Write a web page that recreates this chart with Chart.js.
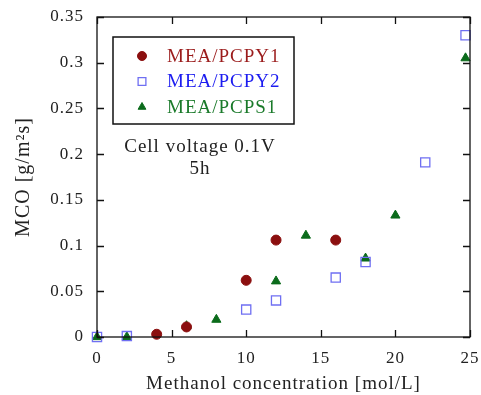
<!DOCTYPE html>
<html>
<head>
<meta charset="utf-8">
<script src="https://cdn.jsdelivr.net/npm/chart.js@4.4.1/dist/chart.umd.min.js"></script>
<style>
  html, body { margin: 0; padding: 0; background: #fff; }
  #wrap { width: 481px; height: 395px; }
</style>
</head>
<body>
<div id="wrap"><canvas id="wykres" width="481" height="395"></canvas></div>
<script>
// stezenie metanolu [mol/L] i MCO [g/m2 s] dla trzech membran
const seriaNazwy = ['MEA/PCPY1', 'MEA/PCPY2', 'MEA/PCPS1'];

const y1X = [4, 6, 10, 12, 16];
const y1Val = [0.003, 0.011, 0.062, 0.106, 0.106];

const y2X = [0, 2, 10, 12, 16, 18, 22, 24.7];
const y2Val = [0, 0.001, 0.030, 0.040, 0.065, 0.082, 0.191, 0.330];

const s1X = [0, 2, 6, 8, 12, 14, 18, 20, 24.7];
const s1Val = [0, 0, 0.012, 0.019, 0.061, 0.111, 0.086, 0.133, 0.305];

const xTicks = [0, 5, 10, 15, 20, 25];
const yTickLabels = ['0', '0.05', '0.1', '0.15', '0.2', '0.25', '0.3', '0.35'];

const opis = ['Cell voltage 0.1V', '5h'];

const FONT = '"Liberation Serif", "Times New Roman", serif';

function punkty(xs, ys) {
    return xs.map((x, i) => ({ x: x, y: ys[i] }));
}

// szerszy odstep liter dla wszystkich napisow
const odstepPlugin = {
    id: 'odstep',
    beforeUpdate(c) { c.ctx.letterSpacing = '1px'; },
    beforeDraw(c) { c.ctx.letterSpacing = '1px'; }
};

// ramka wokol wykresu, znaczniki do srodka, legenda i opis
const ramkaPlugin = {
    id: 'ramka',
    afterDraw(c) {
        const ctx = c.ctx;
        const a = c.chartArea;
        const sx = c.scales.x, sy = c.scales.y;
        ctx.save();
        ctx.strokeStyle = '#111';
        ctx.lineWidth = 1.3;
        ctx.strokeRect(a.left, a.top, a.right - a.left, a.bottom - a.top);
        ctx.beginPath();
        xTicks.forEach(v => {
            const px = Math.round(sx.getPixelForValue(v)) + 0.5;
            ctx.moveTo(px, a.bottom); ctx.lineTo(px, a.bottom - 7);
            ctx.moveTo(px, a.top); ctx.lineTo(px, a.top + 7);
        });
        sy.ticks.forEach(t => {
            const py = Math.round(sy.getPixelForValue(t.value)) + 0.5;
            ctx.moveTo(a.left, py); ctx.lineTo(a.left + 7, py);
            ctx.moveTo(a.right, py); ctx.lineTo(a.right - 7, py);
        });
        ctx.stroke();

        // legenda
        const lx = 113, ly = 37, lw = 181, lh = 87;
        ctx.lineWidth = 1.5;
        ctx.strokeStyle = '#111';
        ctx.strokeRect(lx, ly, lw, lh);
        const kolory = ['#9b1c1c', '#1c1cf0', '#1a7a2a'];
        ctx.font = '19px ' + FONT;
        ctx.textBaseline = 'middle';
        ctx.textAlign = 'left';
        ctx.letterSpacing = '1px';
        c.data.datasets.forEach((ds, i) => {
            const yy = 56 + i * 25.5;
            ctx.fillStyle = ds.backgroundColor;
            ctx.strokeStyle = ds.borderColor;
            ctx.lineWidth = ds.borderWidth;
            Chart.helpers.drawPoint(ctx, {
                pointStyle: ds.pointStyle,
                radius: ds.pointStyle === 'rect' ? 5.5 : 4.5,
                borderWidth: ds.borderWidth
            }, 142, yy);
            ctx.fillStyle = kolory[i];
            ctx.fillText(seriaNazwy[i], 167, yy + 1);
        });

        // opis warunkow pomiaru
        ctx.fillStyle = '#222';
        ctx.textAlign = 'center';
        ctx.textBaseline = 'alphabetic';
        ctx.fillText(opis[0], 200, 152);
        ctx.fillText(opis[1], 200, 174);
        ctx.restore();
    }
};

const ctx = document.getElementById('wykres').getContext('2d');

new Chart(ctx, {
    type: 'scatter',
    data: {
        datasets: [
            {
                label: seriaNazwy[0],
                data: punkty(y1X, y1Val),
                pointStyle: 'circle',
                pointRadius: 5,
                backgroundColor: '#8b0f0f',
                borderColor: '#8b0f0f',
                borderWidth: 1
            },
            {
                label: seriaNazwy[1],
                data: punkty(y2X, y2Val),
                pointStyle: 'rect',
                pointRadius: 6.5,
                backgroundColor: 'rgba(255,255,255,0)',
                borderColor: '#6f6ff2',
                borderWidth: 1.3
            },
            {
                label: seriaNazwy[2],
                data: punkty(s1X, s1Val),
                pointStyle: 'triangle',
                pointRadius: 5.3,
                backgroundColor: '#0b6b1b',
                borderColor: '#0b6b1b',
                borderWidth: 1
            }
        ]
    },
    options: {
        responsive: false,
        animation: false,
        clip: false,
        layout: { autoPadding: false, padding: { top: 17, right: 11, left: 0, bottom: 0 } },
        plugins: {
            legend: { display: false },
            tooltip: { enabled: false }
        },
        scales: {
            x: {
                type: 'linear',
                min: 0,
                max: 25,
                afterFit(s) {
                    s.height = 58;
                    s.paddingLeft = 0;
                    s.paddingRight = 0;
                },
                afterBuildTicks(s) { s.ticks = xTicks.map(v => ({ value: v })); },
                grid: { display: false, drawTicks: false },
                border: { display: false },
                ticks: {
                    color: '#222',
                    padding: 11,
                    font: { family: FONT, size: 17 }
                },
                title: {
                    display: true,
                    text: 'Methanol concentration [mol/L]',
                    color: '#222',
                    font: { family: FONT, size: 19 },
                    padding: { top: 5, bottom: 0 }
                }
            },
            y: {
                type: 'linear',
                min: 0,
                max: 0.35,
                afterFit(s) {
                    s.width = 97;
                    s.paddingTop = 0;
                    s.paddingBottom = 0;
                },
                afterBuildTicks(s) {
                    s.ticks = yTickLabels.map(t => ({ value: parseFloat(t) }));
                },
                grid: { display: false, drawTicks: false },
                border: { display: false },
                ticks: {
                    color: '#222',
                    padding: 13,
                    font: { family: FONT, size: 17 },
                    callback: (v, i) => yTickLabels[i]
                },
                title: {
                    display: true,
                    text: 'MCO [g/m\u00B2s]',
                    color: '#222',
                    font: { family: FONT, size: 20 },
                    padding: { top: 12, bottom: 0 }
                }
            }
        }
    },
    plugins: [odstepPlugin, ramkaPlugin]
});
</script>
</body>
</html>
